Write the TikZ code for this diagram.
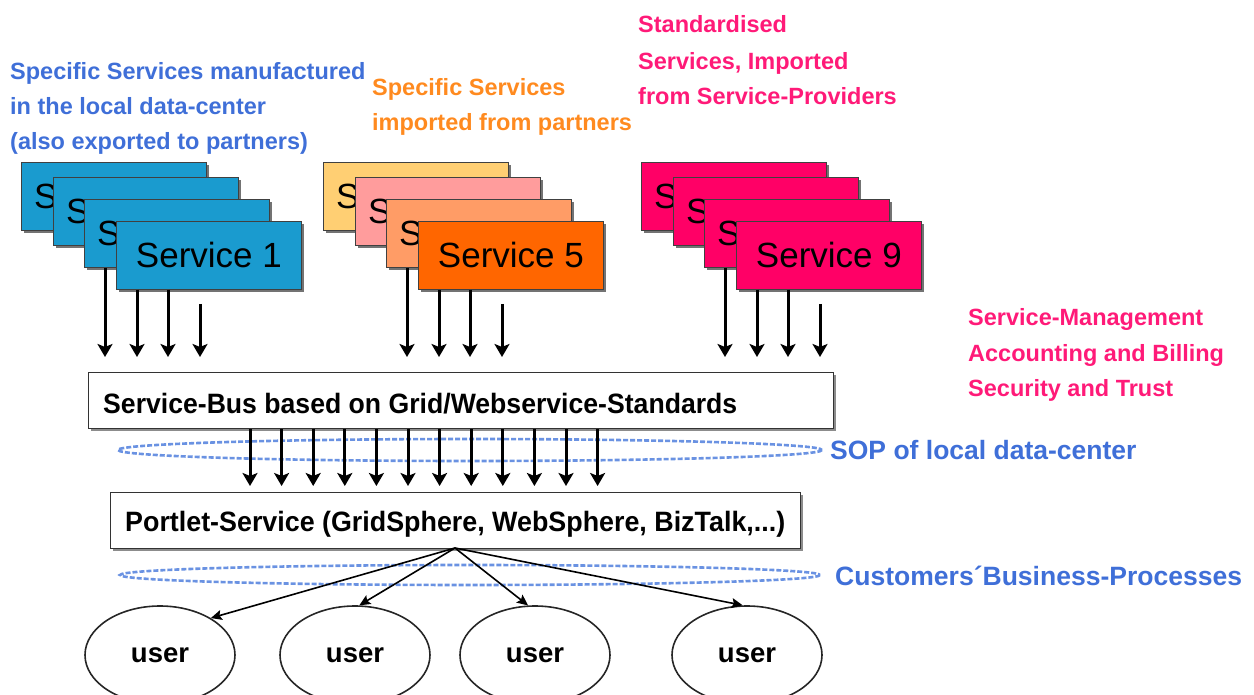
\documentclass[tikz,border=0pt]{standalone}
\usepackage{fontspec}
\usepackage{graphicx}
\setmainfont{Liberation Sans}
\usetikzlibrary{arrows.meta,shadows,calc,shapes.geometric}
\definecolor{svcblue}{HTML}{1A9BCF}
\definecolor{svcyellow}{HTML}{FFCF73}
\definecolor{svcrose}{HTML}{FF9C9C}
\definecolor{svcsalmon}{HTML}{FF9C66}
\definecolor{svcorange}{HTML}{FF6600}
\definecolor{svcpink}{HTML}{FF0066}
\definecolor{lblblue}{HTML}{3F6FD8}
\definecolor{lblorange}{HTML}{FF8A1F}
\definecolor{lblpink}{HTML}{FF1A78}
\definecolor{sopblue}{HTML}{6A92E2}
\begin{document}
\begin{tikzpicture}[x=1pt,y=-1pt,
  svc/.style={draw=black!75, line width=0.8pt, minimum width=185pt, minimum height=68pt,
    anchor=north west, inner sep=0pt,
    drop shadow={shadow xshift=2.5pt, shadow yshift=-2.5pt, fill=black!55, opacity=1}},
  svcfont/.style={font=\fontsize{35}{40}\selectfont},
  svctext/.style={svcfont, anchor=west, inner sep=0pt},
  plainbox/.style={draw=black!80, line width=1pt, fill=white, anchor=north west, inner sep=0pt,
    drop shadow={shadow xshift=2.5pt, shadow yshift=-2.5pt, fill=black!45, opacity=1}},
  boxtext/.style={font=\bfseries\fontsize{28}{32}\selectfont, anchor=base west, inner sep=0pt},
  lbl/.style={font=\bfseries\fontsize{23.5}{28}\selectfont, anchor=base west, inner sep=0pt},
  arr/.style={line width=3pt, -{Stealth[length=13pt,width=15pt,inset=3pt]}},
  thinarr/.style={line width=1.6pt, -{Stealth[length=11pt,width=10pt,inset=2pt]}},
  sop/.style={draw=sopblue, line width=2.6pt, dash pattern=on 5pt off 2pt},
  user/.style={ellipse, draw=black!85, line width=1.6pt, minimum width=150pt, minimum height=98pt,
    inner sep=0pt, font=\bfseries\fontsize{27.5}{30}\selectfont}
]
\useasboundingbox (0,0) rectangle (1254,695);

% headings above the three service stacks
\node[lbl, text=lblblue] (hb1) at (10,80) {Specific Services manufactured};
\node[lbl, text=lblblue] (hb2) at (10,115) {in the local data-center};
\node[lbl, text=lblblue] (hb3) at (10,150) {(also exported to partners)};
\node[lbl, text=lblorange] (ho1) at (372,96) {Specific Services};
\node[lbl, text=lblorange] (ho2) at (372,131) {imported from partners};
\node[lbl, text=lblpink] (hp1) at (638,33) {Standardised};
\node[lbl, text=lblpink] (hp2) at (638,70) {Services, Imported};
\node[lbl, text=lblpink] (hp3) at (638,105) {from Service-Providers};

% management notes
\node[lbl, text=lblpink] (m1) at (968,326) {Service-Management};
\node[lbl, text=lblpink] (m2) at (968,361) {Accounting and Billing};
\node[lbl, text=lblpink] (m3) at (968,396) {Security and Trust};

% three stacks of service boxes with their arrows down to the bus
\foreach \s/\x/\ca/\cb/\cc/\cd/\n in {a/21/svcblue/svcblue/svcblue/svcblue/1,
                                     b/323/svcyellow/svcrose/svcsalmon/svcorange/5,
                                     c/641/svcpink/svcpink/svcpink/svcpink/9} {
  \node[svc, fill=\ca] (\s1) at (\x,162) {};
  \node[svctext] at ($(\s1.west)+(13,0)$) {S};
  \node[svc, fill=\cb] (\s2) at (\x+32,177) {};
  \node[svctext] at ($(\s2.west)+(13,0)$) {S};
  \node[svc, fill=\cc] (\s3) at (\x+63,199) {};
  \node[svctext] at ($(\s3.west)+(13,0)$) {S};
  \node[svc, svcfont, fill=\cd] (\s4) at (\x+95,221) {Service \n};
  \coordinate (t\s1) at (\x+84,357);
  \coordinate (t\s2) at (\x+116,357);
  \coordinate (t\s3) at (\x+147,357);
  \coordinate (t\s4) at (\x+179,357);
  \coordinate (f\s4) at (\x+179,304);
  \draw[arr] (\s3.south -| t\s1) -- (t\s1);
  \draw[arr] (\s4.south -| t\s2) -- (t\s2);
  \draw[arr] (\s4.south -| t\s3) -- (t\s3);
  \draw[arr] (f\s4) -- (t\s4);
}

% service bus and portlet layer
\node[plainbox, minimum width=745pt, minimum height=56pt] (bus) at (88,372) {};
\node[boxtext] (bustext) at (103,413)
  {\resizebox{634pt}{\height}{Service-Bus based on Grid/Webservice-Standards}};

\draw[sop] (470,450) ellipse [x radius=352, y radius=11];
\node[lbl, font=\bfseries\fontsize{26.5}{30}\selectfont, text=lblblue] (sopl) at (830,459)
  {SOP of local data-center};

\node[plainbox, minimum width=690pt, minimum height=56pt] (port) at (110,492) {};
\node[boxtext] (porttext) at (125,531)
  {\resizebox{660pt}{\height}{Portlet-Service (GridSphere, WebSphere, BizTalk,...)}};

\foreach \i in {0,...,11} {
  \coordinate (bx\i) at (250+\i*31.6,0);
  \draw[arr, shorten >=6pt] (bx\i |- bus.south) -- (bx\i |- port.north);
}

% customer processes and users
\draw[sop] (470,575) ellipse [x radius=350, y radius=10];
\node[lbl, font=\bfseries\fontsize{26.5}{30}\selectfont, text=lblblue] (cbp) at (835,585)
  {\resizebox{407pt}{\height}{Customers´Business-Processes}};

\node[user] (u1) at (160,655) {user};
\node[user] (u2) at (355,655) {user};
\node[user] (u3) at (535,655) {user};
\node[user] (u4) at (747,655) {user};

\coordinate (hub) at (455,548);
\draw[thinarr] (hub) -- (u1.36);
\draw[thinarr] (hub) -- (u2.85);
\draw[thinarr] (hub) -- (u3.98);
\draw[thinarr] (hub) -- (u4.95);
\end{tikzpicture}
\end{document}
